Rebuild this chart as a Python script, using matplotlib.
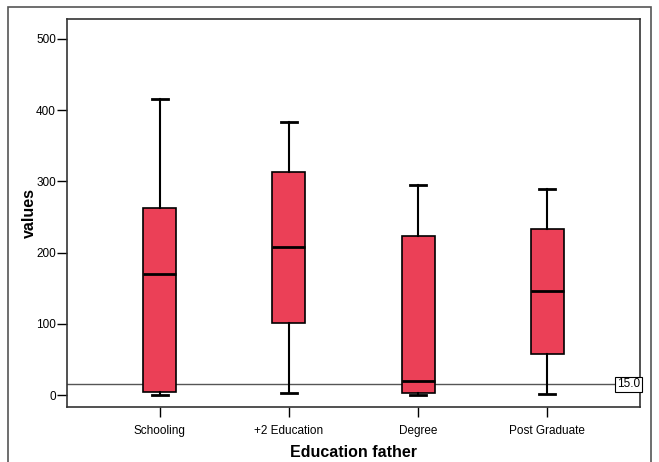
import matplotlib.pyplot as plt
from matplotlib.patches import Rectangle

plt.rcParams['font.family'] = ['Liberation Sans', 'DejaVu Sans']

categories = ['Schooling', '+2 Education', 'Degree', 'Post Graduate']
whisker_low = [0, 3, 0, 1]
q1 = [4, 101, 3, 58]
median = [170, 208, 20, 146]
q3 = [263, 313, 224, 233]
whisker_high = [415, 383, 295, 290]
ref_value = 15.0

stats = []
for i, name in enumerate(categories):
    stats.append({'label': name, 'whislo': whisker_low[i], 'q1': q1[i],
                  'med': median[i], 'q3': q3[i], 'whishi': whisker_high[i],
                  'fliers': []})

fig = plt.figure(figsize=(6.59, 4.62), dpi=100)
ax = fig.add_axes([67/659, 1 - 407/462, (640-67)/659, (407-19)/462])

ax.bxp(stats, positions=range(len(categories)), widths=0.256, patch_artist=True,
       boxprops=dict(facecolor='#EB4057', edgecolor='black', linewidth=1.2),
       medianprops=dict(color='black', linewidth=2),
       whiskerprops=dict(color='black', linewidth=1.5),
       capprops=dict(color='black', linewidth=2), capwidths=0.124)

ax.axhline(ref_value, color='#555555', linewidth=1, zorder=0)
ax.text(3.72, ref_value, '%.1f' % ref_value, ha='right', va='center', fontsize=8.5,
        bbox=dict(facecolor='white', edgecolor='black', boxstyle='square,pad=0.15', linewidth=0.8))

ax.set_xlim(-0.72, 3.72)
ax.set_ylim(-16.8, 528)
ax.set_yticks([0, 100, 200, 300, 400, 500])
ax.tick_params(axis='both', labelsize=8.5, length=7, width=1)
ax.tick_params(axis='x', pad=6)
ax.tick_params(axis='y', pad=1)
ax.set_xlabel('Education father', fontsize=11.5, fontweight='bold', labelpad=6)
ax.set_ylabel('values', fontsize=11.5, fontweight='bold', labelpad=-1)
for s in ax.spines.values():
    s.set_linewidth(1.2)
    s.set_color('#333333')

# outer frame
fig.add_artist(Rectangle((8/659, -0.01), (651-8)/659, 1 - 7/462 + 0.01,
                         transform=fig.transFigure, fill=False,
                         edgecolor='#555555', linewidth=1.2))

fig.savefig('out.png', dpi=100)
